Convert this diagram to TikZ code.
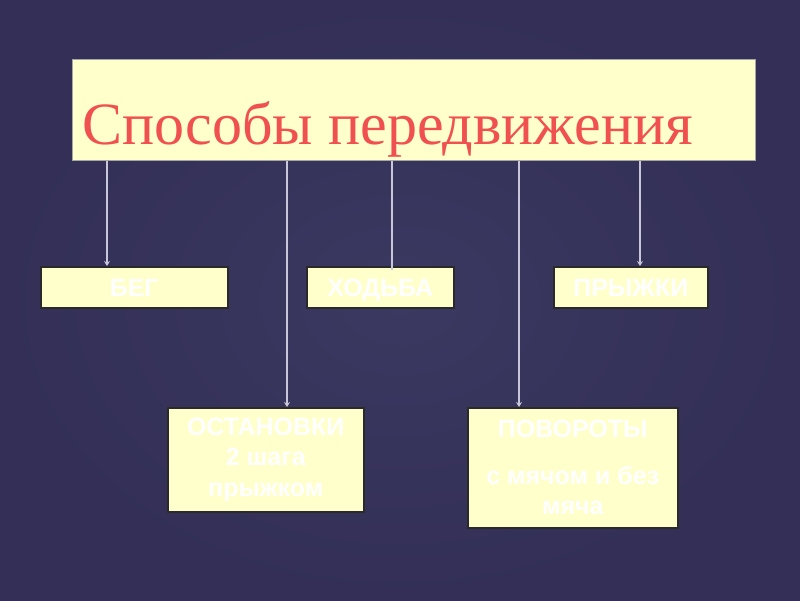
\documentclass[tikz,border=0pt]{standalone}
\usepackage{fontspec}
\setmainfont{Liberation Serif}
\newfontfamily\boxfont{Liberation Sans}
\usetikzlibrary{arrows.meta}
\definecolor{bgdark}{HTML}{332F57}
\definecolor{bglight}{HTML}{3B3961}
\definecolor{boxfill}{HTML}{FFFFCC}
\definecolor{boxline}{HTML}{2A2A2A}
\definecolor{titlered}{HTML}{F0504F}
\definecolor{connc}{HTML}{C8C7DA}
\tikzset{
  box/.style={draw=boxline, line width=1.5pt, fill=boxfill, anchor=north west,
    inner sep=0pt, text=white, font=\boxfont\bfseries\fontsize{25}{30.5}\selectfont, align=center},
  onebox/.style={box, text height=18pt, text depth=0pt},
  titlebox/.style={draw=gray!70, line width=0.6pt, fill=boxfill, anchor=north west, inner sep=0pt},
  conn/.style={draw=connc, line width=1.8pt},
  arr/.style={conn, -{Stealth[length=5pt,width=6pt,fill=white!90!connc]}}
}
\begin{document}
\begin{tikzpicture}[x=1pt,y=-1pt]
\useasboundingbox (0,0) rectangle (800,600);
\shade[inner color=bglight, outer color=bgdark] (0,0) rectangle (800,600);
% title
\node[titlebox, minimum width=683pt, minimum height=101pt] (title) at (72,59) {};
\node[anchor=base west, inner sep=0pt, text=titlered, font=\fontsize{60}{62}\selectfont] (titletext) at (82,144) {Способы передвижения};
% boxes
\node[onebox, minimum width=187pt, minimum height=41pt] (beg) at (40,266) {БЕГ};
\node[onebox, minimum width=147pt, minimum height=41pt] (hod) at (306,266) {ХОДЬБА};
\node[onebox, minimum width=154pt, minimum height=41pt] (pry) at (553,266) {ПРЫЖКИ};
\node[box, minimum width=196pt, minimum height=104pt] (ost) at (167,407) {ОСТАНОВКИ\\2 шага\\прыжком};
\node[box, minimum width=210pt, minimum height=120pt] (pov) at (467,407) {ПОВОРОТЫ\\[16pt]с мячом и без\\мяча};
% connectors
\draw[arr] (title.south -| 107,0) -- (beg.north -| 107,0);
\draw[arr] (title.south -| 287,0) -- (ost.north -| 287,0);
\draw[conn] (title.south -| 392,0) -- ([yshift=-4pt]hod.north -| 392,0);
\draw[arr] (title.south -| 519,0) -- (pov.north -| 519,0);
\draw[arr] (title.south -| 640,0) -- (pry.north -| 640,0);
\end{tikzpicture}
\end{document}
